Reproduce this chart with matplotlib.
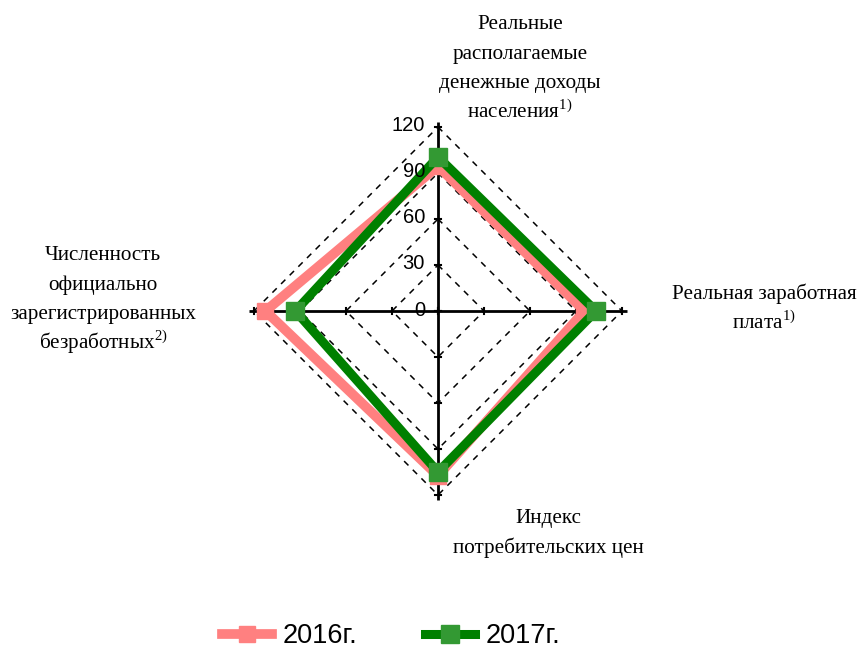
import numpy as np
import matplotlib
matplotlib.use("Agg")
import matplotlib.pyplot as plt
from matplotlib.lines import Line2D

categories = [
    ["Реальные", "располагаемые", "денежные доходы", "населения$^{1)}$"],
    ["Реальная заработная", "плата$^{1)}$"],
    ["Индекс", "потребительских цен"],
    ["Численность", "официально", "зарегистрированных", "безработных$^{2)}$"],
]
series_names = ["2016г.", "2017г."]
values_2016 = [94.5, 95.5, 107.5, 112.5]
values_2017 = [100.5, 103.0, 105.0, 93.0]
ticks = [0, 30, 60, 90, 120]

plt.rcParams['mathtext.fontset'] = 'custom'
plt.rcParams['mathtext.rm'] = 'Liberation Serif'

W, H = 859, 648
fig = plt.figure(figsize=(W / 100, H / 100), dpi=100)
cx, cy = 438, 311
scale = 184 / 120.0  # px per unit
half = 150
ax = fig.add_axes([(cx - half * scale) / W, (H - cy - half * scale) / H,
                   2 * half * scale / W, 2 * half * scale / H])
ax.set_xlim(-half, half)
ax.set_ylim(-half, half)
ax.axis('off')

n = len(categories)
angles = np.pi / 2 - 2 * np.pi * np.arange(n) / n
ux, uy = np.cos(angles), np.sin(angles)

# dashed diamond grid
for t in ticks[1:]:
    xs = np.append(t * ux, t * ux[0])
    ys = np.append(t * uy, t * uy[0])
    ax.plot(xs, ys, color='black', lw=1.1, ls=(0, (4, 4)), zorder=1)

# axes lines
rmax = ticks[-1] + 3.5
for i in range(n):
    ax.plot([0, rmax * ux[i]], [0, rmax * uy[i]], color='black', lw=2.0, zorder=2,
            solid_capstyle='butt')
    for t in ticks:
        px, py = -uy[i], ux[i]
        L = 2.0
        ax.plot([t * ux[i] - L * px, t * ux[i] + L * px],
                [t * uy[i] - L * py, t * uy[i] + L * py], color='black', lw=1.5, zorder=2)

# tick labels along top axis
for t in ticks:
    dy = 1.3 if t > 0 else 0.3
    ax.text(-8.5, t + dy, str(t), ha='right', va='center', fontsize=14.5,
            family='Liberation Sans', zorder=10)

def closed(v):
    v = np.array(v, dtype=float)
    return np.append(v * ux, v[0] * ux[0]), np.append(v * uy, v[0] * uy[0])

v16 = np.array(values_2016)
v17 = np.array(values_2017)
x16, y16 = closed(v16)
ax.plot(x16, y16, color='#FF8080', lw=7, zorder=4, solid_joinstyle='miter')
ax.plot(v16 * ux, v16 * uy, ls='none', marker='s', ms=11,
        mfc='#FF8080', mec='#FF8080', zorder=5)
x17, y17 = closed(v17)
ax.plot(x17, y17, color='#008000', lw=6.5, zorder=6, solid_joinstyle='miter')
ax.plot(v17 * ux, v17 * uy, ls='none', marker='s', ms=13,
        mfc='#339933', mec='#339933', zorder=7)

# category labels (figure pixel coordinates: center x, first baseline y)
label_pos = [(520, 29), (764, 299), (548, 523), (103, 260)]
line_step = 29.6
for lines, (lx, ly) in zip(categories, label_pos):
    for k, line in enumerate(lines):
        fig.text(lx / W, 1 - (ly + k * line_step) / H, line, ha='center', va='baseline',
                 fontsize=15.2, family='Liberation Serif')

handles = [
    Line2D([], [], color='#FF8080', lw=7, marker='s', ms=11, mfc='#FF8080', mec='#FF8080'),
    Line2D([], [], color='#008000', lw=6.5, marker='s', ms=13, mfc='#339933', mec='#339933'),
]
fig.legend(handles, series_names, loc='center', bbox_to_anchor=(0.4555, 1 - 636 / H),
           ncol=2, frameon=False, prop={'family': 'Liberation Sans', 'size': 19.5},
           handlelength=1.85, columnspacing=2.5, handletextpad=0.4)

fig.savefig('out.png', dpi=100)
